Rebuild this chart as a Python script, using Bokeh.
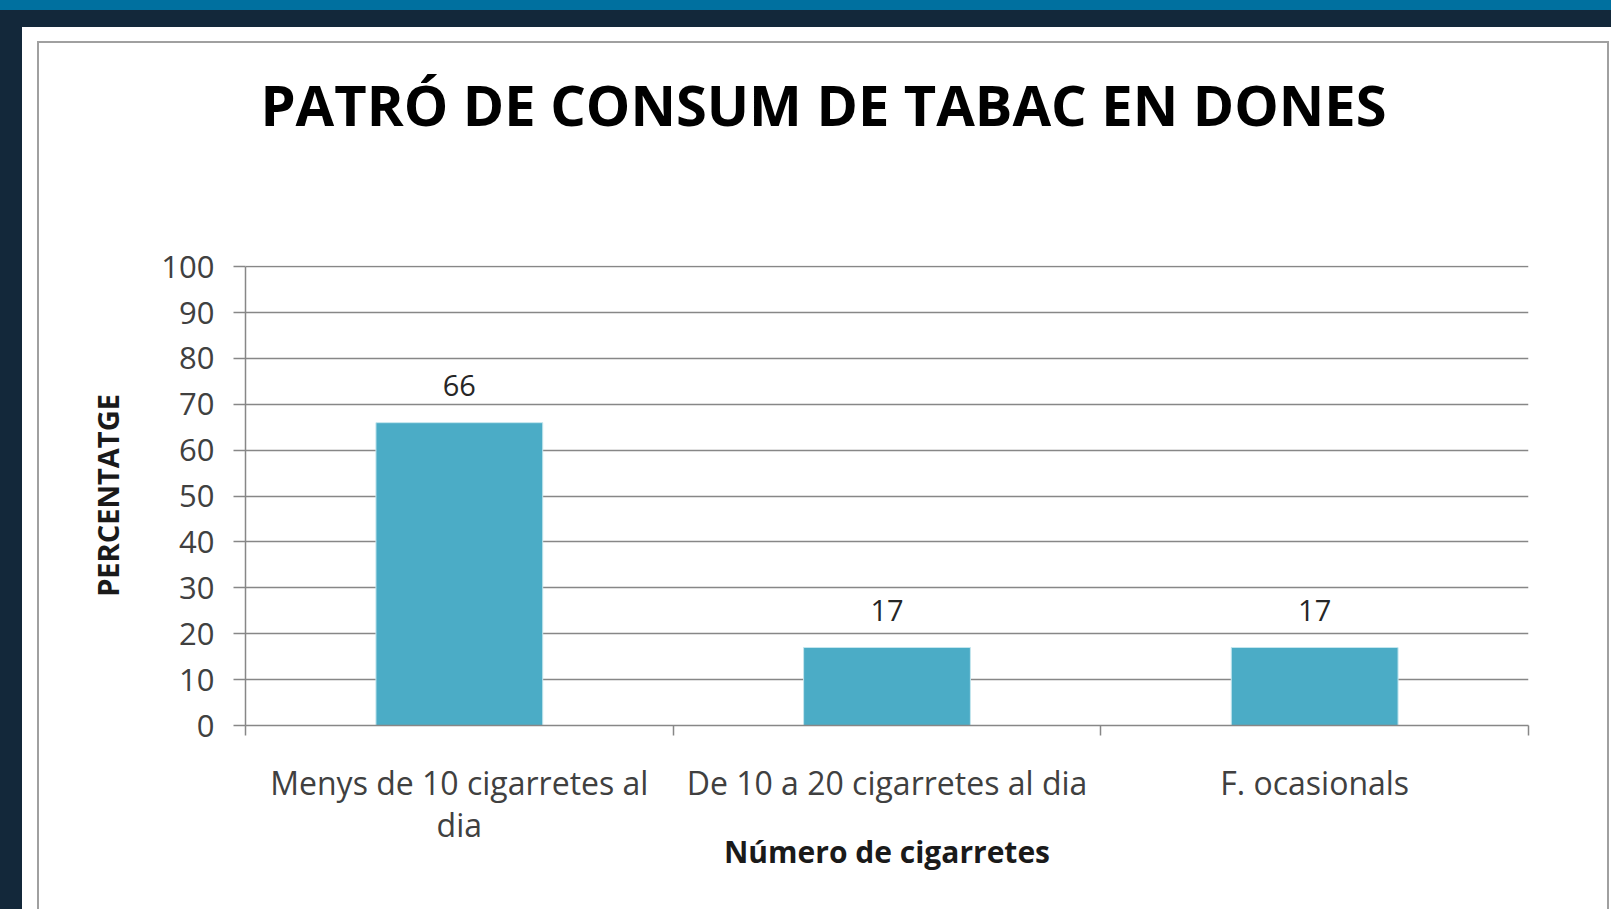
import numpy as np
from bokeh.plotting import figure
from bokeh.models import Range1d, FixedTicker, Label, Div
from bokeh.layouts import column, row
from bokeh.core.properties import value
from bokeh.embed import file_html
from bokeh.resources import INLINE

# ---- data ----
categories = ["Menys de 10 cigarretes al\ndia", "De 10 a 20 cigarretes al dia", "F. ocasionals"]
percentages = [66, 17, 17]
value_labels = ["66", "17", "17"]
y_ticks = [0, 10, 20, 30, 40, 50, 60, 70, 80, 90, 100]
title_text = "PATRÓ DE CONSUM DE TABAC EN DONES"
x_title = "Número de cigarretes"
y_title = "PERCENTATGE"

# ---- style ----
FONT = "Open Sans"
GRAY = "#878787"
FRAME_GRAY = "#a0a0a0"
BAR = "#4bacc6"
NAVY = "#13283a"
BLUE = "#00709f"
FW, FH = 1567, 866

centers = np.arange(len(categories)) + 0.5

p = figure(width=FW, height=FH,
           x_range=Range1d(0, len(categories)), y_range=Range1d(0, 100.25),
           output_backend="svg", toolbar_location=None,
           min_border_left=206, min_border_right=78,
           min_border_top=222, min_border_bottom=184)
p.background_fill_color = "white"
p.border_fill_color = "white"
p.outline_line_color = None

# title (placed in the top side panel so that it is not clipped to the frame)
p.add_layout(Label(x=784, y=60, x_units="canvas", y_units="canvas",
                   text=title_text, text_align="center", text_baseline="alphabetic",
                   text_font=FONT, text_font_size="56px", text_font_style="bold",
                   text_color="#000000"), "above")

# grid
p.xgrid.visible = False
p.ygrid.grid_line_color = GRAY
p.ygrid.grid_line_width = 1.5
p.ygrid.ticker = FixedTicker(ticks=y_ticks)

# bars
p.vbar(x=centers, top=percentages, bottom=0, width=0.39,
       fill_color=BAR, line_color="#c4e6ee", line_width=1)

# value labels
p.text(x=centers, y=percentages, text=value_labels,
       text_align="center", text_baseline="alphabetic", y_offset=-37,
       text_font=value(FONT), text_font_size="29px", text_color="#262626")

# x axis
xa = p.xaxis[0]
xa.ticker = FixedTicker(ticks=list(centers), minor_ticks=list(range(len(categories) + 1)))
xa.major_label_overrides = {float(c): lab for c, lab in zip(centers, categories)}
xa.axis_line_color = GRAY
xa.axis_line_width = 1.5
xa.major_tick_line_color = None
xa.major_tick_out = 10
xa.major_tick_in = 0
xa.minor_tick_line_color = GRAY
xa.minor_tick_line_width = 1.5
xa.minor_tick_out = 10
xa.minor_tick_in = 0
xa.major_label_text_font = FONT
xa.major_label_text_font_size = "32px"
xa.major_label_text_line_height = 0.98
xa.major_label_text_color = "#404040"
xa.major_label_standoff = 25
xa.axis_label = x_title
xa.axis_label_text_font = FONT
xa.axis_label_text_font_size = "30px"
xa.axis_label_text_font_style = "bold"
xa.axis_label_text_color = "#1a1a1a"
xa.axis_label_standoff = -18

# y axis
ya = p.yaxis[0]
ya.ticker = FixedTicker(ticks=y_ticks, minor_ticks=[])
ya.bounds = (0, 100)
ya.axis_line_color = GRAY
ya.axis_line_width = 1.5
ya.major_tick_line_color = GRAY
ya.major_tick_line_width = 1.5
ya.major_tick_out = 12
ya.major_tick_in = 0
ya.minor_tick_line_color = None
ya.major_label_text_font = FONT
ya.major_label_text_font_size = "31px"
ya.major_label_text_color = "#404040"
ya.major_label_standoff = 19
ya.axis_label = y_title
ya.axis_label_text_font = FONT
ya.axis_label_text_font_size = "29px"
ya.axis_label_text_font_style = "bold"
ya.axis_label_text_color = "#1a1a1a"
ya.axis_label_standoff = 31

# ---- page frame (dark bands and grey chart border) ----
top_band = Div(text="", width=1611, height=27, margin=0,
               styles={"background": f"linear-gradient({BLUE} 0px, {BLUE} 10px, {NAVY} 10px, {NAVY} 100%)"})
left_band = Div(text="", width=22, height=882, margin=0,
                styles={"background-color": NAVY})
top_strip = Div(text="", width=1589, height=16, margin=0,
                styles={"background": f"linear-gradient({FRAME_GRAY},{FRAME_GRAY}) 15px 14px / 1572px 2px no-repeat, #ffffff"})
left_strip = Div(text="", width=17, height=FH, margin=0,
                 styles={"background": f"linear-gradient({FRAME_GRAY},{FRAME_GRAY}) 15px 0px / 2px 100% no-repeat, #ffffff"})
right_strip = Div(text="", width=5, height=FH, margin=0,
                  styles={"background": f"linear-gradient({FRAME_GRAY},{FRAME_GRAY}) 1px 0px / 2px 100% no-repeat, #ffffff"})

layout = column(top_band,
                row(left_band,
                    column(top_strip, row(left_strip, p, right_strip, spacing=0), spacing=0),
                    spacing=0),
                spacing=0)

open("out.html", "w").write(file_html(layout, INLINE))
